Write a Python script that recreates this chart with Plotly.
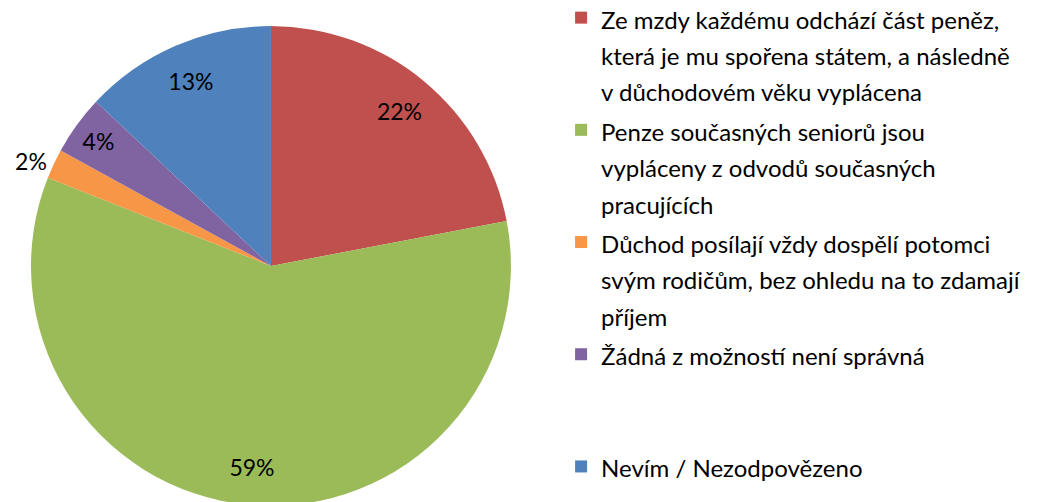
import plotly.graph_objects as go

labels = [
    "Ze mzdy každému odchází část peněz,<br>která je mu spořena státem, a následně<br>v důchodovém věku vyplácena",
    "Penze současných seniorů jsou<br>vypláceny z odvodů současných<br>pracujících",
    "Důchod posílají vždy dospělí potomci<br>svým rodičům, bez ohledu na to zdamají<br>příjem",
    "Žádná z možností není správná<br>&nbsp;<br>&nbsp;",
    "Nevím / Nezodpovězeno",
]
values = [22, 59, 2, 4, 13]
text_labels = ["22%", "59%", "2%", "4%", "13%"]
colors = ["#C0504D", "#9BBB59", "#F79646", "#8064A2", "#4F81BD"]
text_positions = ["inside", "inside", "outside", "inside", "inside"]

legend_labels = ['<span style="font-size:24px">' + s.replace("<br>", '</span><br><span style="font-size:24px">') + "</span>" for s in labels]

pie_domain = dict(x=[0.0, 0.5052], y=[0.008, 0.964])

fig = go.Figure()
# coloured slices + legend
fig.add_trace(
    go.Pie(
        labels=legend_labels,
        values=values,
        textinfo="none",
        sort=False,
        direction="clockwise",
        rotation=0,
        automargin=False,
        marker=dict(colors=colors, line=dict(width=0)),
        domain=pie_domain,
        hoverinfo="percent",
    )
)
# transparent ring carrying the percentage labels near the rim
fig.add_trace(
    go.Pie(
        labels=legend_labels,
        values=values,
        text=text_labels,
        textinfo="text",
        textposition=text_positions,
        insidetextorientation="horizontal",
        hole=0.68,
        sort=False,
        direction="clockwise",
        rotation=0,
        automargin=False,
        showlegend=False,
        marker=dict(colors=["rgba(0,0,0,0)"] * len(values), line=dict(width=0)),
        textfont=dict(family="Lato", size=23, color="#000000"),
        domain=pie_domain,
        hoverinfo="skip",
    )
)

fig.update_layout(
    width=1041,
    height=502,
    margin=dict(l=0, r=0, t=0, b=0, autoexpand=False),
    paper_bgcolor="white",
    plot_bgcolor="white",
    showlegend=True,
    legend=dict(
        x=0.5313,
        y=1.03,
        xanchor="left",
        yanchor="top",
        valign="top",
        maxheight=1,
        font=dict(family="Lato", size=28, color="#000000"),
        tracegroupgap=0,
    ),
)

fig.write_html("out.html")
